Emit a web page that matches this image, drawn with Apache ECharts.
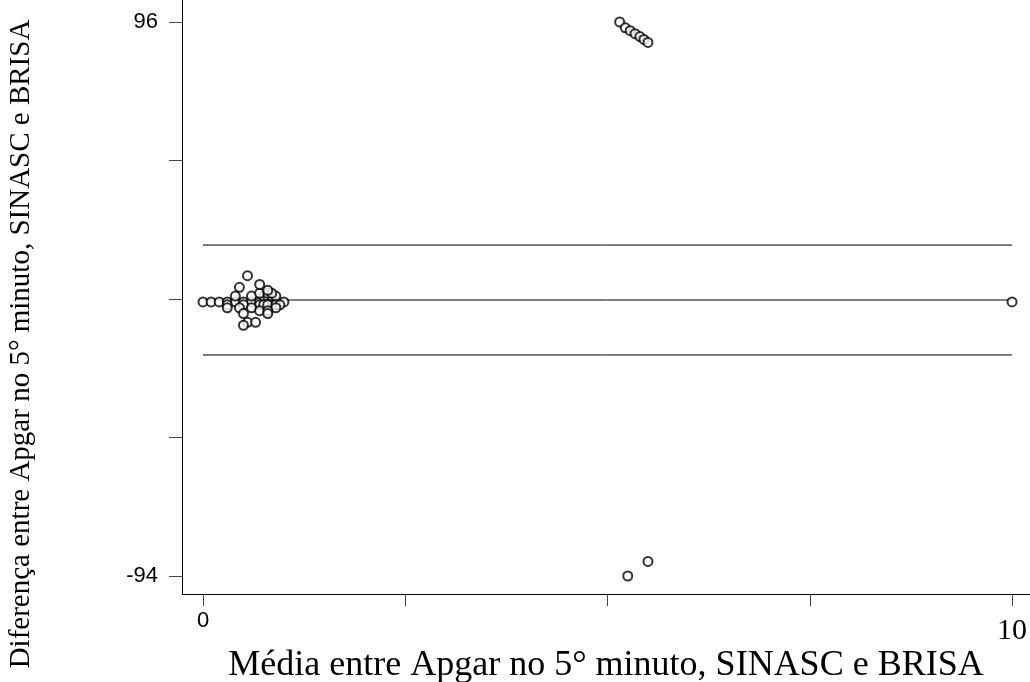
<!DOCTYPE html>
<html>
<head>
<meta charset="utf-8">
<script src="https://cdn.jsdelivr.net/npm/echarts@6/dist/echarts.min.js"></script>
<style>
  html, body { margin: 0; padding: 0; background: #fff; }
  #chart { width: 1030px; height: 682px; }
</style>
</head>
<body>
<div id="chart"></div>
<script>
// mean of the two Apgar scores (x) and their difference (y)
const clusterMean = [
  0, 0.1, 0.2, 0.3, 0.4, 0.5, 0.6, 0.7, 0.75, 0.8, 0.85, 0.9, 1.0,
  0.4, 0.6, 0.75, 0.8, 0.85, 0.9,
  0.7, 0.8, 0.85,
  0.8, 0.45, 0.7, 0.55,
  0.3, 0.5, 0.7, 0.75, 0.8, 0.9, 0.95,
  0.3, 0.45, 0.6, 0.9,
  0.7, 0.8,
  0.5, 0.8,
  0.55, 0.65, 0.5
];
const clusterDiff = [
  0, 0, 0, 0, 0, 0, 0, 0, 0, 0, 0, 0, 0,
  2, 2, 2, 2, 2, 2,
  3, 3, 3,
  4, 5, 6, 9,
  -1, -1, -1, -1, -1, -1, -1,
  -2, -2, -2, -2,
  -3, -3,
  -4, -4,
  -7, -7, -8
];
const outlierMean = [5.15, 5.22, 5.28, 5.34, 5.4, 5.45, 5.5, 5.25, 5.5, 10];
const outlierDiff = [96, 94, 93, 92, 91, 90, 89, -94, -89, 0];

const meanDiff = 0.65;
const lowerLimit = -18.2;
const upperLimit = 19.5;

const xTicks = [0, 2.5, 5, 7.5, 10];
const yTicks = [-94, -46.5, 1, 48.5, 96];
const xLabelTicks = [0, 10];
const yLabelTicks = [-94, 96];

const points = clusterMean.map((m, i) => [m, clusterDiff[i]])
  .concat(outlierMean.map((m, i) => [m, outlierDiff[i]]));

const hLine = (y) => ({
  type: "line",
  data: [[0, y], [10, y]],
  symbol: "none",
  silent: true,
  lineStyle: { color: "#000", width: 1 },
  z: 1,
});

const chart = echarts.init(document.getElementById("chart"));

chart.setOption({
  animation: false,
  backgroundColor: "#fff",
  grid: { left: 182, right: 0, top: 0, bottom: 88, outerBoundsMode: "none", containLabel: false },
  xAxis: {
    type: "value",
    min: -0.2596,
    max: 10.222,
    splitLine: { show: false },
    axisLine: { onZero: false, lineStyle: { color: "#000", width: 1 } },
    axisTick: {
      length: 12,
      customValues: xTicks,
      lineStyle: { color: "#444" },
    },
    axisLabel: {
      customValues: xLabelTicks,
      margin: 16,
      fontFamily: "Liberation Sans",
      fontSize: 22,
      color: "#000",
      formatter: (v) => (v === 10 ? "{s|10}" : String(v)),
      rich: {
        s: { fontFamily: "Liberation Serif", fontSize: 30, color: "#000", padding: [6, 0, 0, 0] },
      },
    },
    name: "Média entre Apgar no 5° minuto, SINASC e BRISA",
    nameLocation: "middle",
    nameGap: 54,
    nameMoveOverlap: false,
    nameTextStyle: { fontFamily: "Liberation Serif", fontSize: 36, color: "#000" },
  },
  yAxis: {
    type: "value",
    min: -100.17,
    max: 103.54,
    splitLine: { show: false },
    axisLine: { show: true, onZero: false, lineStyle: { color: "#000", width: 1 } },
    axisTick: {
      show: true,
      length: 13,
      customValues: yTicks,
      lineStyle: { color: "#444" },
    },
    axisLabel: {
      customValues: yLabelTicks,
      margin: 24,
      fontFamily: "Liberation Sans",
      fontSize: 22,
      color: "#000",
    },
    name: "Diferença entre Apgar no 5° minuto, SINASC e BRISA",
    nameLocation: "middle",
    nameGap: 146,
    nameMoveOverlap: false,
    nameTextStyle: {
      fontFamily: "Liberation Serif",
      fontSize: 29,
      color: "#000",
      padding: [0, 94, 0, 0],
    },
  },
  series: [
    hLine(upperLimit),
    hLine(meanDiff),
    hLine(lowerLimit),
    {
      type: "scatter",
      data: points,
      symbol: "emptyCircle",
      symbolSize: 9,
      itemStyle: { color: "#000", borderColor: "#000", borderWidth: 1 },
      z: 3,
    },
  ],
});
</script>
</body>
</html>
